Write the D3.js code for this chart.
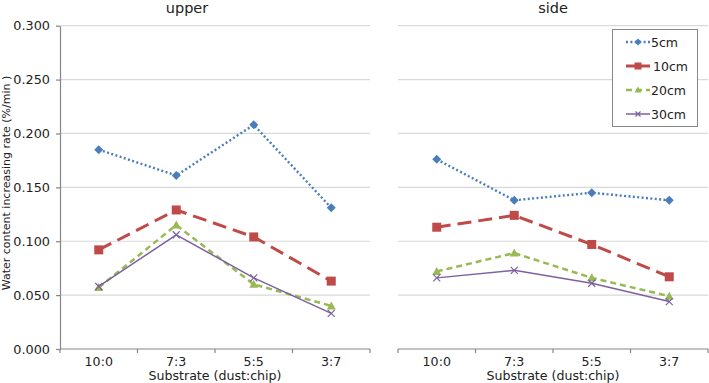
<!DOCTYPE html>
<html><head><meta charset="utf-8">
<script src="https://cdn.jsdelivr.net/npm/d3@7"></script>
<style>
body{margin:0;background:#fff;}
svg{display:block;font-family:"DejaVu Sans",Verdana,sans-serif;}
</style></head>
<body><svg id="c" width="709" height="383"></svg>
<script>
const categories = ["10:0","7:3","5:5","3:7"];
const panels = ["upper","side"];
const seriesNames = ["5cm","10cm","20cm","30cm"];
const yTicks = [0,0.05,0.1,0.15,0.2,0.25,0.3];
const upper5 = [0.185,0.161,0.208,0.131];
const upper10 = [0.092,0.129,0.104,0.063];
const upper20 = [0.057,0.115,0.060,0.040];
const upper30 = [0.058,0.106,0.066,0.033];
const side5 = [0.176,0.138,0.145,0.138];
const side10 = [0.113,0.124,0.097,0.067];
const side20 = [0.072,0.089,0.066,0.049];
const side30 = [0.066,0.073,0.061,0.044];

const data = {upper:[upper5,upper10,upper20,upper30], side:[side5,side10,side20,side30]};
const styles = [
  {color:"#4a7ebb", width:2.4, dash:"2,2.4", cap:"butt", marker:"diamond", msize:9},
  {color:"#be4b48", width:3, dash:"14,7", cap:"butt", marker:"square", msize:9},
  {color:"#98b954", width:2.5, dash:"6,4", cap:"butt", marker:"triangle", msize:9},
  {color:"#7d60a0", width:1.5, dash:null, cap:"butt", marker:"x", msize:7}
];

const svg = d3.select("#c");
const y = d3.scaleLinear().domain([0,0.3]).range([349,25.7]);
const ranges = {upper:[60,370], side:[398,708]};
const FS = "12.6px";

function drawMarker(g, type, cx, cy, st){
  const s = st.msize;
  if(type==="diamond"){
    g.append("path").attr("d",`M${cx},${cy-s/2}L${cx+s/2},${cy}L${cx},${cy+s/2}L${cx-s/2},${cy}Z`).attr("fill",st.color);
  } else if(type==="square"){
    g.append("rect").attr("x",cx-s/2).attr("y",cy-s/2).attr("width",s).attr("height",s).attr("fill",st.color);
  } else if(type==="triangle"){
    g.append("path").attr("d",`M${cx},${cy-s/2}L${cx+s/2},${cy+s/2-1}L${cx-s/2},${cy+s/2-1}Z`).attr("fill",st.color);
  } else {
    const h=s/2;
    g.append("path").attr("d",`M${cx-h},${cy-h}L${cx+h},${cy+h}M${cx-h},${cy+h}L${cx+h},${cy-h}`).attr("stroke",st.color).attr("stroke-width",1.2).attr("fill","none");
  }
}

panels.forEach((p,pi)=>{
  const x = d3.scaleBand().domain(categories).range(ranges[p]).padding(0);
  const g = svg.append("g");
  const [x0,x1] = ranges[p];
  g.selectAll(".grid").data(yTicks.filter(d=>d>0)).enter().append("line")
    .attr("x1",x0).attr("x2",x1).attr("y1",d=>y(d)).attr("y2",d=>y(d))
    .attr("stroke","#d9d9d9").attr("stroke-width",1.2);
  g.append("line").attr("x1",x0).attr("x2",x1).attr("y1",y(0)).attr("y2",y(0)).attr("stroke","#868686").attr("stroke-width",1.2);
  const bounds = categories.map(c=>x(c)).concat([x(categories[categories.length-1])+x.step()]);
  g.selectAll(".bt").data(bounds).enter().append("line")
    .attr("x1",d=>d).attr("x2",d=>d).attr("y1",y(0)).attr("y2",y(0)+4)
    .attr("stroke","#868686").attr("stroke-width",1.2);
  g.selectAll(".xl").data(categories).enter().append("text")
    .attr("x",d=>x(d)+x.bandwidth()/2).attr("y",366)
    .attr("text-anchor","middle").attr("font-size",FS).attr("fill","#222").text(d=>d);
  g.append("text").attr("x",(x0+x1)/2).attr("y",379.5).attr("text-anchor","middle")
    .attr("font-size",FS).attr("fill","#222").text("Substrate (dust:chip)");
  g.append("text").attr("x",(x0+x1)/2 - (pi===0?28:0)).attr("y",13).attr("text-anchor","middle")
    .attr("font-size","14.5px").attr("fill","#222").text(p);
  if(pi===0){
    const ax = g.append("g").attr("transform",`translate(${x0},0)`)
      .call(d3.axisLeft(y).tickValues(yTicks).tickFormat(d3.format(".3f")).tickSize(4).tickSizeOuter(0));
    ax.select(".domain").attr("stroke","#868686").attr("stroke-width",1.2);
    ax.selectAll(".tick line").attr("stroke","#868686").attr("stroke-width",1.2);
    ax.selectAll(".tick text").attr("font-size","12.8px").attr("fill","#222").attr("x",-10)
      .attr("font-family","DejaVu Sans, Verdana, sans-serif");
  }
  data[p].forEach((vals,si)=>{
    const st = styles[si];
    const line = d3.line().x((d,i)=>x(categories[i])+x.bandwidth()/2).y(d=>y(d));
    g.append("path").datum(vals).attr("d",line).attr("fill","none")
      .attr("stroke",st.color).attr("stroke-width",st.width)
      .attr("stroke-dasharray",st.dash).attr("stroke-linecap",st.cap);
    vals.forEach((v,i)=>drawMarker(g, st.marker, x(categories[i])+x.bandwidth()/2, y(v), st));
  });
});

svg.append("text").attr("transform","translate(10,183) rotate(-90)").attr("text-anchor","middle")
  .attr("font-size","11px").attr("fill","#222").text("Water content increasing rate (%/min )");

const lg = svg.append("g");
lg.append("rect").attr("x",612.5).attr("y",29.5).attr("width",85).attr("height",97)
  .attr("fill","#fff").attr("stroke","#888").attr("stroke-width",1);
const ly = [42,66,90,114];
seriesNames.forEach((n,i)=>{
  const st = styles[i];
  lg.append("line").attr("x1",626).attr("x2",650).attr("y1",ly[i]).attr("y2",ly[i])
    .attr("stroke",st.color).attr("stroke-width",st.width)
    .attr("stroke-dasharray",i===1?null:st.dash);
  drawMarker(lg, st.marker, 638, ly[i], Object.assign({},st,{msize:st.msize-2}));
  lg.append("text").attr("x",i===1?653:651).attr("y",ly[i]+4.5).attr("font-size","12.5px").attr("fill","#222").text(n);
});
</script></body></html>
